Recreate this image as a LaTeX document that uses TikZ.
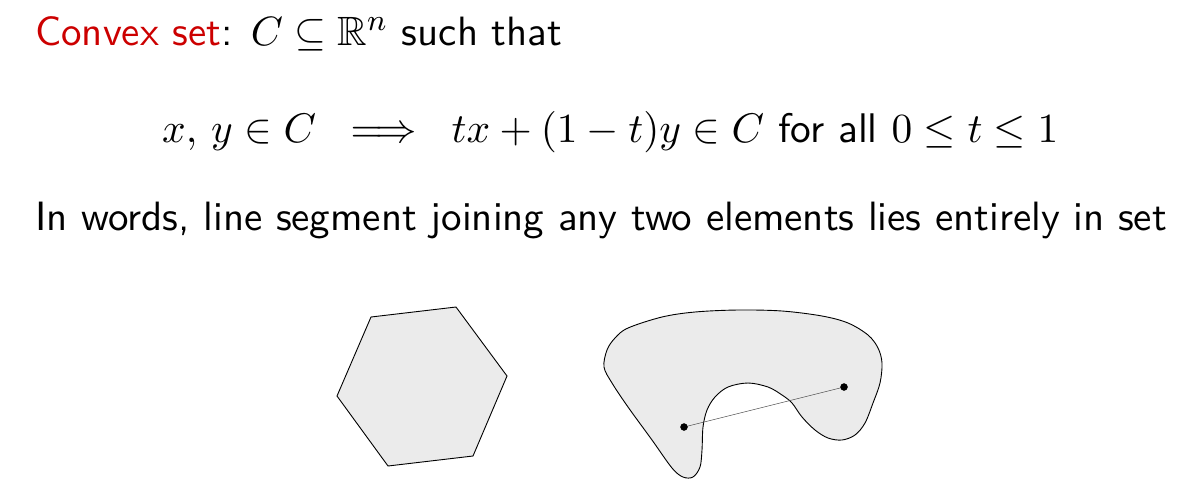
\documentclass[tikz,border=0pt]{standalone}
\usepackage{amsmath}
\usepackage{amssymb}
\usepackage{graphicx}

\definecolor{convexred}{RGB}{204,0,0}
\definecolor{setfill}{RGB}{235,235,235}
\newcommand{\slidetext}[2][3.74]{\scalebox{#1}{#2}}

\begin{document}
\begin{tikzpicture}[x=1pt, y=-1pt,
    txt/.style={anchor=base west, inner sep=0pt, font=\sffamily\fontsize{10.95}{13}\selectfont},
    region/.style={draw=black, fill=setfill, line width=0.9pt}]
  \useasboundingbox (0,0) rectangle (1185,491);

  \node[txt] (def) at (35,45) {\slidetext{\textcolor{convexred}{Convex set}: $C \subseteq \mathbb{R}^n$ such that}};
  \node[txt] (eq) at (162,142) {\slidetext[3.78]{$x,\,y \in C \;\implies\; tx+(1-t)y \in C$ for all $0 \le t \le 1$}};
  \node[txt] (words) at (35,230) {\slidetext{In words, line segment joining any two elements lies entirely in set}};

  % convex: hexagon
  \draw[region] (371,317) -- (456,307) -- (507,376) -- (473,456) -- (388,466) -- (337,396) -- cycle;

  % nonconvex blob
  \draw[region] plot[smooth cycle, tension=0.55] coordinates {
    (628,328) (662,317) (695,312) (738,310) (782,311) (822,316) (848,323)
    (868,335) (878,348) (882,363) (880,383) (873,403) (865,423) (855,435)
    (842,440) (828,438) (815,430) (802,417) (792,403) (782,395) (768,387)
    (748,383) (728,387) (715,397) (707,410) (703,427) (702,450) (700,467)
    (693,477) (683,477) (672,468) (652,440) (628,407) (612,383) (604,367)
    (607,350) (615,338)};

  \node (P) at (684,427) {};
  \node (Q) at (844,387) {};
  \draw[black!70, line width=0.5pt] (P.center) -- (Q.center);
  \filldraw (P) circle (3.5pt);
  \filldraw (Q) circle (3.5pt);
\end{tikzpicture}
\end{document}
